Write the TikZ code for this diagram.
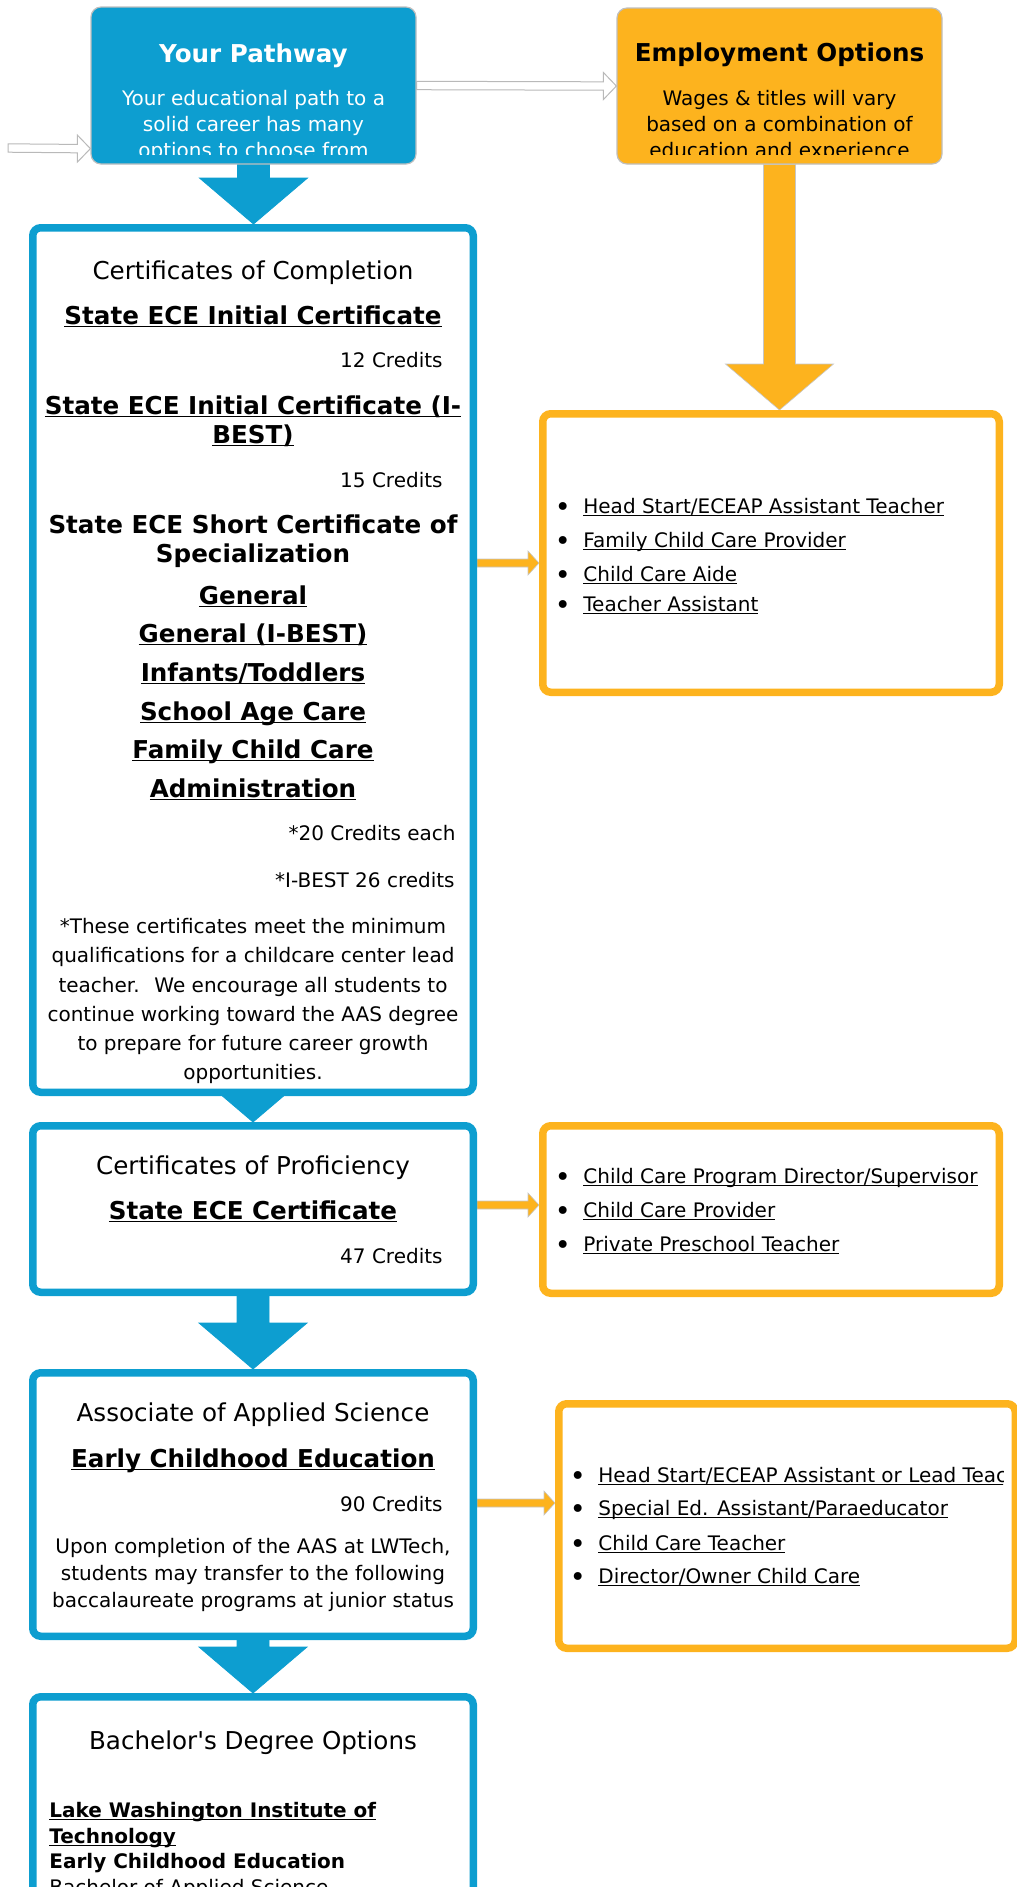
\documentclass[tikz,border=0pt]{standalone}
\usepackage{fontspec}
\setmainfont{DejaVu Sans}[Ligatures=TeXOff]
\usetikzlibrary{calc,backgrounds}

\definecolor{pathblue}{RGB}{13,158,208}
\definecolor{joborange}{RGB}{253,179,30}

\newsavebox{\ulsave}
\newcommand{\ulbox}[1]{\sbox\ulsave{#1}\rlap{\rule[-0.14em]{\wd\ulsave}{0.06em}}\usebox\ulsave}

% big arrow down: source, target, look
\newcommand{\blockdown}[3]{%
  \filldraw[#3] ($(#1.south)+(-16,0)$) -- ($(#1.south |- #2.north)+(-16,-46)$)
    -- ($(#1.south |- #2.north)+(-54,-46)$) -- (#1.south |- #2.north)
    -- ($(#1.south |- #2.north)+(54,-46)$) -- ($(#1.south |- #2.north)+(16,-46)$)
    -- ($(#1.south)+(16,0)$) -- cycle;}

% small arrow to a job box: source, target, shift
\newcommand{\blockright}[3]{%
  \filldraw[fill=joborange, draw=gray!45, line width=0.3pt]
    ($(#1.east |- #2.west)+(0,#3-4)$) -- ($(#2.west)+(-11,#3-4)$) -- ($(#2.west)+(-11,#3-12)$)
    -- ($(#2.west)+(0,#3)$) -- ($(#2.west)+(-11,#3+12)$) -- ($(#2.west)+(-11,#3+4)$)
    -- ($(#1.east |- #2.west)+(0,#3+4)$) -- cycle;}

% outlined arrow: start, tip
\newcommand{\hollowright}[2]{%
  \draw[hollow] ($(#1)+(0,-4.2)$) -- ($(#2)+(-13,-4.2)$) -- ($(#2)+(-13,-13.5)$) -- (#2)
    -- ($(#2)+(-13,13.5)$) -- ($(#2)+(-13,4.2)$) -- ($(#1)+(0,4.2)$) -- cycle;}

\newcommand{\jobdot}{\llap{\raisebox{-0.18em}{\scalebox{1.35}{\textbullet}}\hspace{6.3pt}}}

\tikzset{
  box size/.style 2 args={minimum width=#1, minimum height=#2, inner sep=0pt},
  headbox/.style={draw=gray!50, line width=0.6pt, rounded corners=5pt},
  pathbox/.style={draw=pathblue, fill=white, line width=3.75pt, rounded corners=4pt},
  jobbox/.style={draw=joborange, fill=white, line width=3.75pt, rounded corners=4pt},
  hollow/.style={draw=gray!55, fill=white, line width=0.5pt},
  title/.style={font=\fontsize{12.3}{15}\selectfont, inner sep=0pt, anchor=base},
  titlebf/.style={title, font=\fontsize{12.3}{15}\selectfont\bfseries},
  body/.style={font=\fontsize{10}{12}\selectfont, inner sep=0pt, anchor=base},
  bodybf/.style={body, font=\fontsize{10}{12}\selectfont\bfseries},
  credit/.style={body, anchor=base east},
  item/.style={body, anchor=base west, execute at begin node=\jobdot}
}

\begin{document}
\begin{tikzpicture}[x=0.5pt, y=-0.5pt]
\useasboundingbox (0,0) rectangle (1017,1887);

% header boxes
\node[headbox, fill=pathblue, box size={162.5pt}{78.5pt}] (pathway) at (253.5,85.5) {};
\node[headbox, fill=joborange, box size={162.5pt}{78pt}] (employ) at (779.5,86) {};

% pathway boxes
\node[pathbox, box size={220.25pt}{432.25pt}] (comp) at (253,660) {};
\node[pathbox, box size={220.25pt}{83.25pt}] (prof) at (253,1209) {};
\node[pathbox, box size={220.25pt}{131.75pt}] (aas) at (253,1504.5) {};
\node[pathbox, box size={220.25pt}{149.75pt}] (bach) at (253,1846.5) {};

% job boxes
\node[jobbox, box size={228.25pt}{139.25pt}] (jobsA) at (771,553) {};
\node[jobbox, box size={228.25pt}{83.75pt}] (jobsB) at (771,1209.5) {};
\node[jobbox, box size={228.25pt}{122.25pt}] (jobsC) at (787,1526) {};

\coordinate (lane) at (8,148);
\coordinate (laneend) at ($(pathway.south west)+(0,-16)$);

% connectors
\begin{scope}[on background layer]
  \hollowright{lane}{laneend}
  \hollowright{pathway.east}{employ.west}
  \blockdown{pathway}{comp}{pathblue}
  \blockdown{comp}{prof}{pathblue}
  \blockdown{prof}{aas}{pathblue}
  \blockdown{aas}{bach}{pathblue}
  \blockdown{employ}{jobsA}{fill=joborange, draw=gray!45, line width=0.3pt}
  \blockright{comp}{jobsA}{10}
  \blockright{prof}{jobsB}{-4.5}
  \blockright{aas}{jobsC}{-23}
\end{scope}

% header texts
\begin{scope}
  \clip (pathway.north west) rectangle ($(pathway.south east)+(0,-10)$);
  \node[titlebf, text=white] (pathT) at (253.5,62) {Your Pathway};
  \node[body, text=white] (pathL1) at (253.5,105) {Your educational path to a};
  \node[body, text=white] (pathL2) at (253.5,131) {solid career has many};
  \node[body, text=white] (pathL3) at (253.5,157) {options to choose from};
\end{scope}
\begin{scope}
  \clip (employ.north west) rectangle ($(employ.south east)+(0,-10)$);
  \node[titlebf] (empT) at (779.5,61) {Employment Options};
  \node[body] (empL1) at (779.5,105) {Wages \& titles will vary};
  \node[body] (empL2) at (779.5,131) {based on a combination of};
  \node[body] (empL3) at (779.5,157) {education and experience};
\end{scope}

% certificates of completion
\node[title] (compT) at (253,279) {Certificates of Completion};
\node[titlebf] (compInit) at (253,324) {\ulbox{State ECE Initial Certificate}};
\node[credit] (compInitCr) at (443,367) {12 Credits};
\node[titlebf] (compIbest) at (253,414) {\ulbox{State ECE Initial Certificate (I-}};
\node[titlebf] (compIbestB) at (253,443) {\ulbox{BEST)}};
\node[credit] (compIbestCr) at (443,487) {15 Credits};
\node[titlebf] (compShort) at (253,533) {State ECE Short Certificate of};
\node[titlebf] (compShortB) at (253,562) {Specialization};
\node[titlebf] (specGen) at (253,604) {\ulbox{General}};
\node[titlebf] (specGenI) at (253,642) {\ulbox{General (I-BEST)}};
\node[titlebf] (specInf) at (253,681) {\ulbox{Infants/Toddlers}};
\node[titlebf] (specSchool) at (253,720) {\ulbox{School Age Care}};
\node[titlebf] (specFam) at (253,758) {\ulbox{Family Child Care}};
\node[titlebf] (specAdm) at (253,797) {\ulbox{Administration}};
\node[credit] (specCr) at (456,840) {*20 Credits each};
\node[credit] (specIbestCr) at (455,887) {*I-BEST 26 credits};
\node[body] (note1) at (253,933) {*These certificates meet the minimum};
\node[body] (note2) at (253,962) {qualifications for a childcare center lead};
\node[body] (note3) at (253,992) {teacher.~ We encourage all students to};
\node[body] (note4) at (253,1021) {continue working toward the AAS degree};
\node[body] (note5) at (253,1050) {to prepare for future career growth};
\node[body] (note6) at (253,1079) {opportunities.};

% certificates of proficiency
\node[title] (profT) at (253,1174) {Certificates of Proficiency};
\node[titlebf] (profCert) at (253,1219) {\ulbox{State ECE Certificate}};
\node[credit] (profCr) at (443,1263) {47 Credits};

% associate degree
\node[title] (aasT) at (253,1421) {Associate of Applied Science};
\node[titlebf] (aasEce) at (253,1467) {\ulbox{Early Childhood Education}};
\node[credit] (aasCr) at (443,1511) {90 Credits};
\node[body] (aasL1) at (253,1553) {Upon completion of the AAS at LWTech,};
\node[body] (aasL2) at (253,1580) {students may transfer to the following};
\node[body] (aasL3) at (253,1607) {baccalaureate programs at junior status};

% bachelor
\node[title] (bachT) at (253,1749) {Bachelor's Degree Options};
\node[bodybf, anchor=base west] (lwit) at (49,1817) {\ulbox{Lake Washington Institute of}};
\node[bodybf, anchor=base west] (lwitB) at (49,1843) {\ulbox{Technology}};
\node[bodybf, anchor=base west] (bachEce) at (49,1868) {Early Childhood Education};
\node[body, anchor=base west] (bachBas) at (49,1894) {Bachelor of Applied Science};

% jobs
\node[item] (jobA1) at (583,513) {\ulbox{Head Start/ECEAP Assistant Teacher}};
\node[item] (jobA2) at (583,547) {\ulbox{Family Child Care Provider}};
\node[item] (jobA3) at (583,581) {\ulbox{Child Care Aide}};
\node[item] (jobA4) at (583,611) {\ulbox{Teacher Assistant}};

\node[item] (jobB1) at (583,1183) {\ulbox{Child Care Program Director/Supervisor}};
\node[item] (jobB2) at (583,1217) {\ulbox{Child Care Provider}};
\node[item] (jobB3) at (583,1251) {\ulbox{Private Preschool Teacher}};

\begin{scope}
  \clip (jobsC.north west) rectangle ($(jobsC.south east)+(-16,0)$);
  \node[item] (jobC1) at (598,1482) {\ulbox{Head Start/ECEAP Assistant or Lead Teacher}};
\end{scope}
\node[item] (jobC2) at (598,1515) {\ulbox{Special Ed. Assistant/Paraeducator}};
\node[item] (jobC3) at (598,1550) {\ulbox{Child Care Teacher}};
\node[item] (jobC4) at (598,1583) {\ulbox{Director/Owner Child Care}};
\end{tikzpicture}
\end{document}
